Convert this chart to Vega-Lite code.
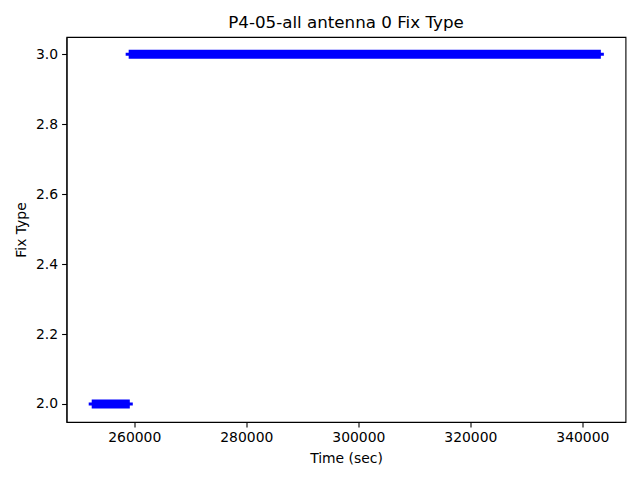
{
  "$schema": "https://vega.github.io/schema/vega-lite/v6.json",
  "width": 559,
  "height": 385,
  "autosize": {"type": "none"},
  "padding": {"left": 66.5, "top": 37, "right": 14.5, "bottom": 58},
  "background": "white",
  "config": {
    "font": "DejaVu Sans",
    "view": {"stroke": "black", "strokeWidth": 1.1},
    "axis": {
      "grid": false,
      "domainColor": "black",
      "domainWidth": 1.1,
      "tickColor": "black",
      "tickWidth": 1.1,
      "tickSize": 4.9,
      "labelPadding": 4,
      "labelColor": "black",
      "labelFontSize": 13.9,
      "labelFont": "DejaVu Sans",
      "titleFont": "DejaVu Sans",
      "titleFontSize": 13.9,
      "titleFontWeight": "normal",
      "titleColor": "black"
    },
    "title": {"font": "DejaVu Sans", "fontSize": 16.7, "fontWeight": "normal", "color": "black"}
  },
  "title": {"text": "P4-05-all antenna 0 Fix Type", "offset": 5},
  "data": {
    "values": [
      {"fix": 2, "start": 252400, "end": 259200},
      {"fix": 3, "start": 259000, "end": 343300}
    ]
  },
  "encoding": {
    "x": {
      "field": "start",
      "type": "quantitative",
      "scale": {"domain": [247900, 347700], "nice": false, "zero": false},
      "axis": {"title": "Time (sec)", "values": [260000, 280000, 300000, 320000, 340000], "format": "d", "titlePadding": 7}
    },
    "x2": {"field": "end"},
    "y": {
      "field": "fix",
      "type": "quantitative",
      "scale": {"domain": [1.9485, 3.0495], "nice": false, "zero": false},
      "axis": {"title": "Fix Type", "values": [2.0, 2.2, 2.4, 2.6, 2.8, 3.0], "format": ".1f", "titlePadding": 7}
    }
  },
  "layer": [
    {"mark": {"type": "rule", "color": "#0000ff", "strokeWidth": 9, "strokeCap": "butt"}},
    {"mark": {"type": "rule", "color": "#0000ff", "strokeWidth": 3, "strokeCap": "butt", "xOffset": -3, "x2Offset": 3}}
  ]
}
